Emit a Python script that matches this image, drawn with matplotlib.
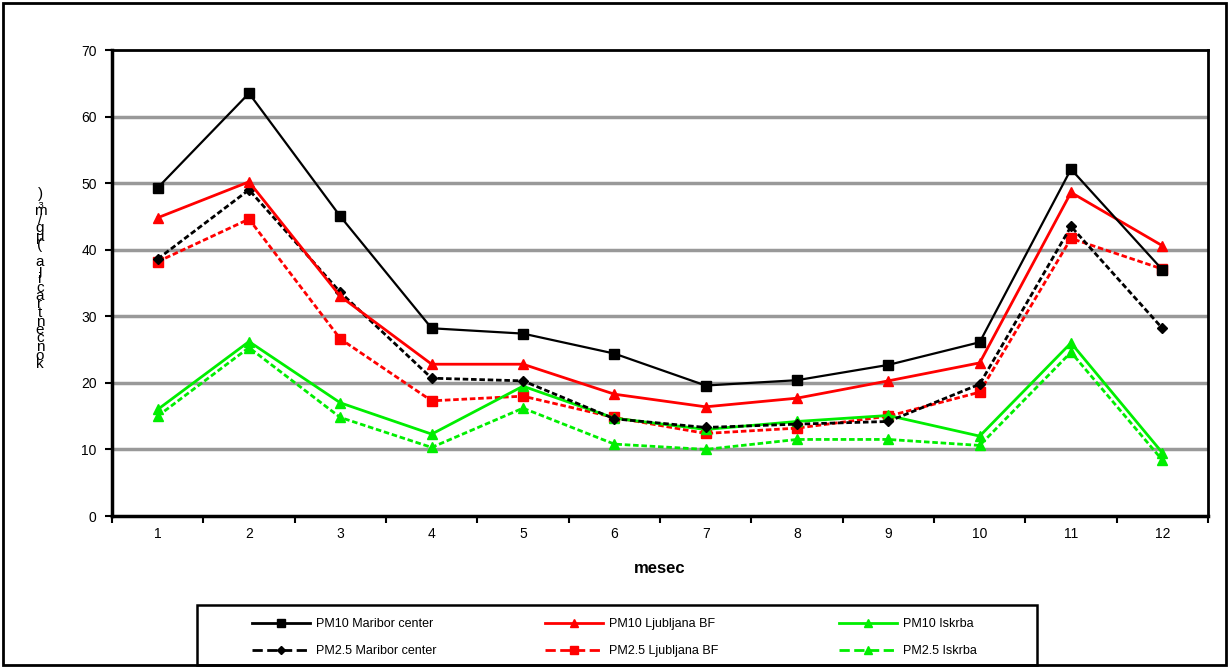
import matplotlib
matplotlib.use("Agg")
import matplotlib.pyplot as plt
from matplotlib.patches import Rectangle
from matplotlib.lines import Line2D

plt.rcParams["font.family"] = ["Liberation Sans", "DejaVu Sans"]

months = [1, 2, 3, 4, 5, 6, 7, 8, 9, 10, 11, 12]

pm10_maribor = [49.3, 63.5, 45.0, 28.2, 27.4, 24.4, 19.6, 20.4, 22.7, 26.1, 52.1, 37.0]
pm10_ljubljana = [44.8, 50.2, 33.0, 22.8, 22.8, 18.3, 16.4, 17.7, 20.3, 23.0, 48.6, 40.6]
pm10_iskrba = [16.0, 26.2, 17.0, 12.3, 19.5, 14.7, 13.0, 14.2, 15.1, 12.0, 26.0, 9.5]
pm25_maribor = [38.6, 49.0, 33.6, 20.7, 20.3, 14.6, 13.3, 13.8, 14.2, 19.8, 43.5, 28.2]
pm25_ljubljana = [38.2, 44.6, 26.6, 17.3, 18.0, 14.8, 12.4, 13.2, 15.0, 18.6, 41.7, 37.1]
pm25_iskrba = [15.0, 25.3, 14.8, 10.3, 16.2, 10.8, 10.0, 11.5, 11.5, 10.6, 24.6, 8.4]

y_ticks = [0, 10, 20, 30, 40, 50, 60, 70]
y_label = "koncentracija (µg/m₃)"

W, H = 1229, 668
fig = plt.figure(figsize=(W / 100, H / 100), dpi=100)
ax = fig.add_axes([112 / W, 1 - 516 / H, 1096 / W, 466 / H])

dash = (0, (2, 1))
lines = []
lines.append(ax.plot(months, pm10_maribor, color="black", lw=1.6, marker="s", ms=7,
                     label="PM10 Maribor center", zorder=5)[0])
lines.append(ax.plot(months, pm25_maribor, color="black", lw=2, ls=dash, marker="D", ms=5,
                     label="PM2.5 Maribor center", zorder=4)[0])
lines.append(ax.plot(months, pm10_ljubljana, color="#ff0000", lw=2, marker="^", ms=7,
                     label="PM10 Ljubljana BF", zorder=4)[0])
lines.append(ax.plot(months, pm25_ljubljana, color="#ff0000", lw=2, ls=dash, marker="s", ms=7,
                     label="PM2.5 Ljubljana BF", zorder=3)[0])
lines.append(ax.plot(months, pm10_iskrba, color="#00ee00", lw=2, marker="^", ms=7,
                     label="PM10 Iskrba", zorder=3)[0])
lines.append(ax.plot(months, pm25_iskrba, color="#00ee00", lw=2, ls=dash, marker="^", ms=7,
                     label="PM2.5 Iskrba", zorder=2)[0])

ax.set_xlim(0.5, 12.5)
ax.set_ylim(0, 70)
ax.set_yticks(y_ticks)
ax.set_xticks(months)
ax.set_xticklabels([str(m) for m in months])
ax.set_xticks([m + 0.5 for m in [0] + months], minor=True)
ax.tick_params(axis="x", which="major", length=0, pad=8, labelsize=10)
ax.tick_params(axis="x", which="minor", length=5, width=1.5, direction="out")
ax.tick_params(axis="y", length=5, width=1.5, direction="out", pad=6, labelsize=10)

for y in y_ticks[1:-1]:
    ax.axhline(y, color="#999999", lw=2.5, zorder=1)

for side in ["left", "bottom"]:
    ax.spines[side].set_linewidth(2.5)
for side in ["top", "right"]:
    ax.spines[side].set_linewidth(2)

ax.set_xlabel("mesec", fontsize=12, fontweight="bold", labelpad=14)

# stacked y label, one upright character per line (as in the original)
fig.text(40 / W, 1 - 279 / H, "\n".join(reversed(y_label)),
         ha="center", va="center", fontsize=11, linespacing=0.5)

# legend: frame + three single-column legends
fig.patches.append(Rectangle((197 / W, 1 - 665 / H), 840 / W, 60 / H,
                             transform=fig.transFigure, fill=False,
                             edgecolor="black", lw=1.8))
col_x = [252, 545, 839]
for i, x0 in enumerate(col_x):
    pair = lines[2 * i:2 * i + 2]
    handles = [Line2D([], [], color=l.get_color(), ls=l.get_linestyle(), lw=2,
                      marker=l.get_marker(), ms=l.get_markersize() - 1)
               for l in pair]
    leg = fig.legend(handles, [l.get_label() for l in pair], loc="center left",
                     bbox_to_anchor=(x0 / W, 1 - 637.5 / H), frameon=False,
                     fontsize=9, handlelength=4.6, handletextpad=0.55,
                     labelspacing=1.2, borderpad=0, borderaxespad=0)

fig.patches.append(Rectangle((3 / W, 3 / H), 1223 / W, 662 / H,
                             transform=fig.transFigure, fill=False,
                             edgecolor="black", lw=2))

fig.savefig("out.png", dpi=100)
plt.close(fig)
